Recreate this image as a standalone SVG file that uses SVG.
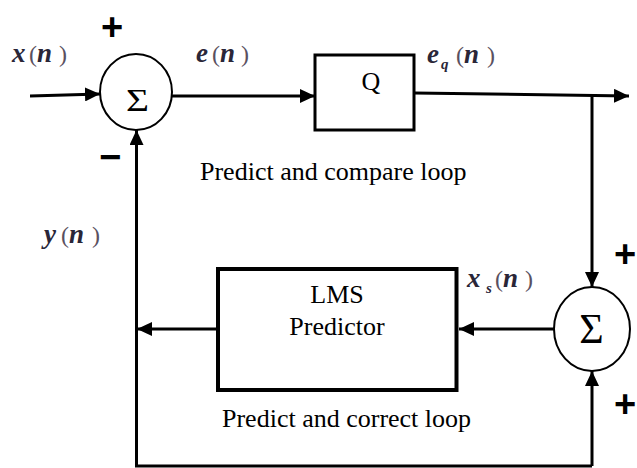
<svg xmlns="http://www.w3.org/2000/svg" width="637" height="468" viewBox="0 0 637 468">
<style>
.ln{fill:none;stroke:#000;stroke-width:3}
.blk{fill:none;stroke:#000;stroke-width:3}
.sum{fill:#fff;stroke:#000;stroke-width:2}
.tr{font-family:"Liberation Serif","Times New Roman",serif;fill:#000}
.sg{font-family:"Liberation Sans",Arial,sans-serif;font-weight:bold;fill:#000}
.m{font-family:"Liberation Serif","Times New Roman",serif;fill:#2a2638}
.v{font-style:italic;font-weight:bold;font-size:27px}
.p{font-size:24px;fill:#5a5060}
.s{font-style:italic;font-weight:bold;font-size:15px}
</style>
<defs>
<marker id="ah" viewBox="0 0 15 14" refX="15" refY="7" markerWidth="15" markerHeight="14" markerUnits="userSpaceOnUse" orient="auto">
<path d="M0,0 L15,7 L0,14 Z" fill="#000"/>
</marker>
</defs>
<g id="connectors">
<line class="ln" x1="30" y1="96" x2="100" y2="94" marker-end="url(#ah)"/>
<line class="ln" x1="172" y1="96" x2="315" y2="96" marker-end="url(#ah)"/>
<line class="ln" x1="414" y1="93" x2="629" y2="96" marker-end="url(#ah)"/>
<line class="ln" x1="592" y1="95" x2="592" y2="287" marker-end="url(#ah)"/>
<line class="ln" x1="554" y1="329" x2="459" y2="329" marker-end="url(#ah)"/>
<line class="ln" x1="216" y1="329" x2="137" y2="329" marker-end="url(#ah)"/>
<polyline class="ln" points="592,466 136.5,466 136.5,130" marker-end="url(#ah)"/>
<line class="ln" x1="592" y1="466" x2="592" y2="371" marker-end="url(#ah)"/>
</g>
<g id="sum1">
<ellipse class="sum" cx="136" cy="92" rx="36" ry="38"/>
<text class="tr" x="126" y="111" font-size="32" textLength="23" lengthAdjust="spacingAndGlyphs">Σ</text>
</g>
<g id="quantizer">
<rect class="blk" x="315" y="55" width="99" height="75"/>
<text class="tr" x="371" y="90" font-size="26" text-anchor="middle">Q</text>
</g>
<g id="sum2">
<ellipse class="sum" cx="592" cy="329" rx="38" ry="42"/>
<text class="tr" x="591.5" y="343" font-size="42" text-anchor="middle">Σ</text>
</g>
<g id="lms">
<rect x="218" y="269" width="238.5" height="121" fill="none" stroke="#000" stroke-width="4"/>
<text class="tr" x="337" y="303" font-size="26" text-anchor="middle">LMS</text>
<text class="tr" x="337" y="335" font-size="26" text-anchor="middle">Predictor</text>
</g>
<g id="labels">
<text class="tr" x="200" y="180" font-size="26">Predict and compare loop</text>
<text class="tr" x="222" y="427" font-size="26">Predict and correct loop</text>
<text class="sg" x="112" y="40" font-size="38" text-anchor="middle">+</text>
<text class="sg" x="110" y="170" font-size="38" text-anchor="middle">−</text>
<text class="sg" x="625" y="267" font-size="38" text-anchor="middle">+</text>
<text class="sg" x="625" y="417" font-size="38" text-anchor="middle">+</text>
<text class="m" y="62"><tspan class="v" x="12">x</tspan><tspan class="p" x="29">(</tspan><tspan class="v" x="37">n</tspan><tspan class="p" x="59">)</tspan></text>
<text class="m" y="62"><tspan class="v" x="196">e</tspan><tspan class="p" x="212">(</tspan><tspan class="v" x="220">n</tspan><tspan class="p" x="241">)</tspan></text>
<text class="m" y="63"><tspan class="v" x="427">e</tspan><tspan class="s" x="441" y="69">q</tspan><tspan class="p" x="456" y="63">(</tspan><tspan class="v" x="464">n</tspan><tspan class="p" x="487">)</tspan></text>
<text class="m" y="243"><tspan class="v" x="44">y</tspan><tspan class="p" x="61">(</tspan><tspan class="v" x="69">n</tspan><tspan class="p" x="92">)</tspan></text>
<text class="m" y="287"><tspan class="v" x="467">x</tspan><tspan class="s" x="486" y="293">s</tspan><tspan class="p" x="495" y="287">(</tspan><tspan class="v" x="503">n</tspan><tspan class="p" x="525">)</tspan></text>
</g>
</svg>
